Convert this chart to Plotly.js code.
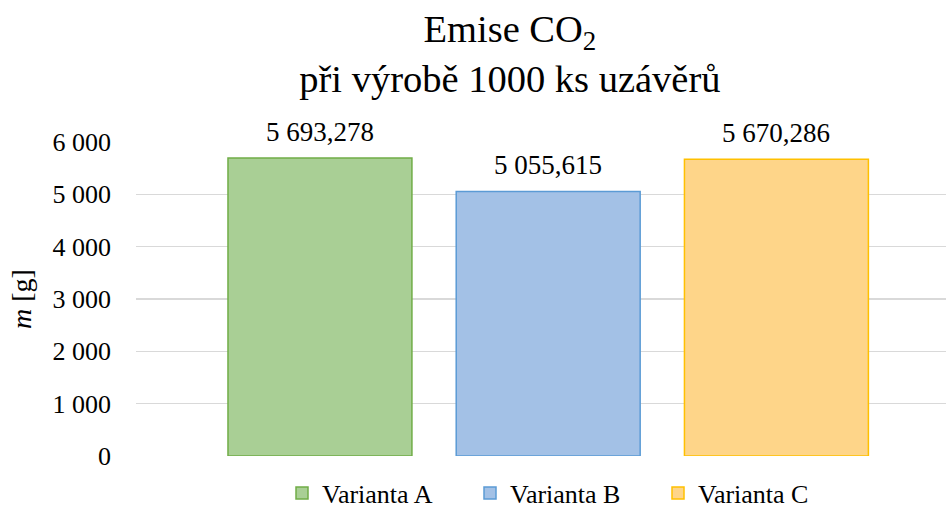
<!DOCTYPE html>
<html>
<head>
<meta charset="utf-8">
<script src="https://cdn.plot.ly/plotly-3.0.1.min.js"></script>
<style>html,body{margin:0;padding:0;background:#fff;}#chart{width:946px;height:507px;}</style>
</head>
<body>
<div id="chart"></div>
<script>
const categories = ["Varianta A", "Varianta B", "Varianta C"];
const values = [5693.278, 5055.615, 5670.286];
const fillColors = ["#a9cf95", "#a3c1e6", "#fed589"];
const lineColors = ["#70ad47", "#5b9bd5", "#ffc000"];
const yTicks = [0, 1000, 2000, 3000, 4000, 5000, 6000];

const serif = "Liberation Serif";

const legendIds = ["legend", "legend2", "legend3"];

function fmtCz(v) {
  const parts = v.toFixed(3).split(".");
  const intPart = parts[0].replace(/\B(?=(\d{3})+(?!\d))/g, " ");
  return intPart + "," + parts[1];
}

const traces = categories.map((name, i) => ({
  type: "bar",
  name: name,
  legend: legendIds[i],
  x: [i],
  y: [values[i]],
  width: 0.806,
  marker: { color: fillColors[i], line: { color: lineColors[i], width: 1.5 } },
  hoverinfo: "skip"
}));

const annotations = categories.map((name, i) => ({
  x: i,
  y: values[i],
  xref: "x",
  yref: "y",
  text: fmtCz(values[i]),
  showarrow: false,
  yanchor: "bottom",
  xanchor: "center",
  yshift: 9,
  font: { family: serif, size: 27, color: "#000" }
}));

function legendAt(px) {
  return {
    orientation: "h",
    x: (px - 136) / 810,
    xanchor: "left",
    y: -0.118,
    yanchor: "middle",
    font: { family: serif, size: 26, color: "#000" },
    itemwidth: 30,
    borderwidth: 0,
    bgcolor: "rgba(0,0,0,0)"
  };
}

const layout = {
  width: 946,
  height: 507,
  separators: ", ",
  font: { family: serif, size: 26, color: "#000" },
  margin: { l: 136, r: 0, t: 142, b: 51, autoexpand: false },
  paper_bgcolor: "#fff",
  plot_bgcolor: "#fff",
  barmode: "overlay",
  showlegend: true,
  annotations: annotations,
  title: {
    text: "Emise CO<sub>2</sub><br>při výrobě 1000 ks uzávěrů",
    font: { family: serif, size: 38.5, color: "#000" },
    x: 0.539,
    xanchor: "center",
    yref: "container",
    y: 0.917,
    yanchor: "top"
  },
  xaxis: {
    range: [-0.806, 2.743],
    showticklabels: false,
    showgrid: false,
    zeroline: false,
    ticks: "",
    fixedrange: true
  },
  yaxis: {
    range: [0, 6000],
    tickvals: yTicks,
    tickformat: ",d",
    showgrid: true,
    gridcolor: "#d9d9d9",
    gridwidth: 1.5,
    zeroline: false,
    ticks: "",
    ticklabelstandoff: 24,
    tickfont: { family: serif, size: 26, color: "#000" },
    title: {
      text: "<i>m</i> [g]",
      font: { family: serif, size: 28, color: "#000" },
      standoff: 12
    }
  },
  legend: legendAt(282),
  legend2: legendAt(470),
  legend3: legendAt(658)
};

Plotly.newPlot("chart", traces, layout, { displayModeBar: false, staticPlot: true });
</script>
</body>
</html>
